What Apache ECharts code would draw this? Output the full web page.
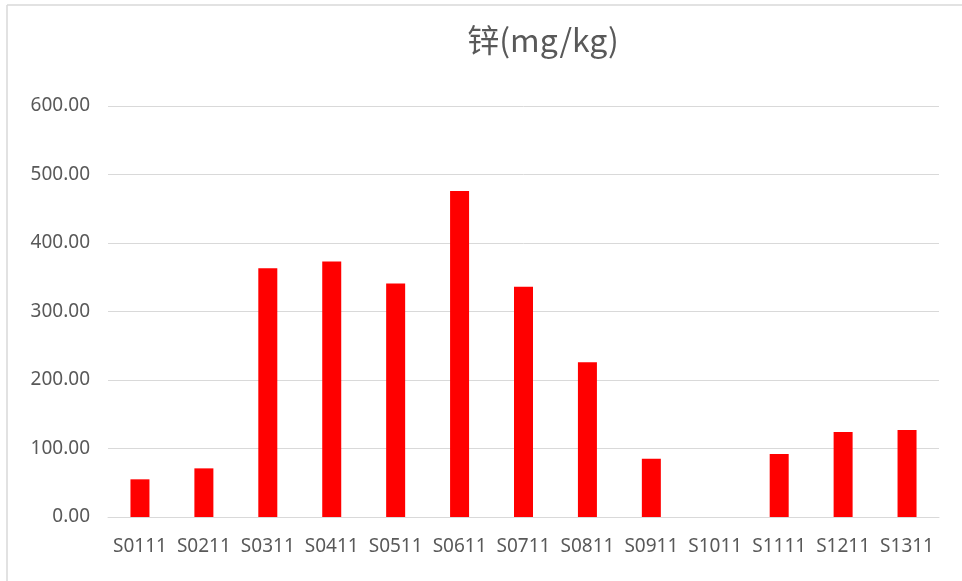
<!DOCTYPE html>
<html>
<head>
<meta charset="utf-8">
<script src="https://cdn.jsdelivr.net/npm/echarts@6/dist/echarts.min.js"></script>
<style>html,body{margin:0;padding:0;background:#fff;}#c{width:962px;height:581px;}</style>
</head>
<body>
<div id="c"></div>
<script>
const titleText = '锌(mg/kg)';
const categories = ['S0111','S0211','S0311','S0411','S0511','S0611','S0711','S0811','S0911','S1011','S1111','S1211','S1311'];
const zincValues = [55, 71, 363, 373, 341, 476, 336, 226, 85, 0, 92, 124, 127];
const yTicks = [0, 100, 200, 300, 400, 500, 600];

const chart = echarts.init(document.getElementById('c'));
const font = '"Noto Sans", "Noto Sans CJK SC", sans-serif';
chart.setOption({
  animation: false,
  backgroundColor: '#ffffff',
  title: {
    text: titleText,
    left: 538, top: 19, textAlign: 'center',
    textStyle: { fontFamily: '"Noto Sans CJK SC", sans-serif', fontSize: 32, fontWeight: 'normal', color: '#595959' }
  },
  graphic: [
    { type: 'line', shape: { x1: 7, y1: 5, x2: 7, y2: 581 }, style: { stroke: '#d9d9d9', lineWidth: 1.5 } },
    { type: 'line', shape: { x1: 7, y1: 5, x2: 962, y2: 5 }, style: { stroke: '#d9d9d9', lineWidth: 1.5 } }
  ],
  grid: { left: 108, right: 23, top: 106, bottom: 64, containLabel: false },
  xAxis: {
    type: 'category',
    data: categories,
    axisTick: { show: false },
    axisLine: { lineStyle: { color: '#d9d9d9' } },
    axisLabel: { color: '#595959', fontFamily: font, fontSize: 19, margin: 20, interval: 0 }
  },
  yAxis: {
    type: 'value',
    min: yTicks[0], max: yTicks[yTicks.length - 1], interval: 100,
    axisLine: { show: false },
    axisTick: { show: false },
    splitLine: { lineStyle: { color: '#d9d9d9' } },
    axisLabel: { color: '#595959', fontFamily: font, fontSize: 19, margin: 18, formatter: v => v.toFixed(2) }
  },
  series: [{
    type: 'bar',
    data: zincValues,
    barWidth: 19,
    itemStyle: { color: '#ff0000' }
  }]
});
</script>
</body>
</html>
